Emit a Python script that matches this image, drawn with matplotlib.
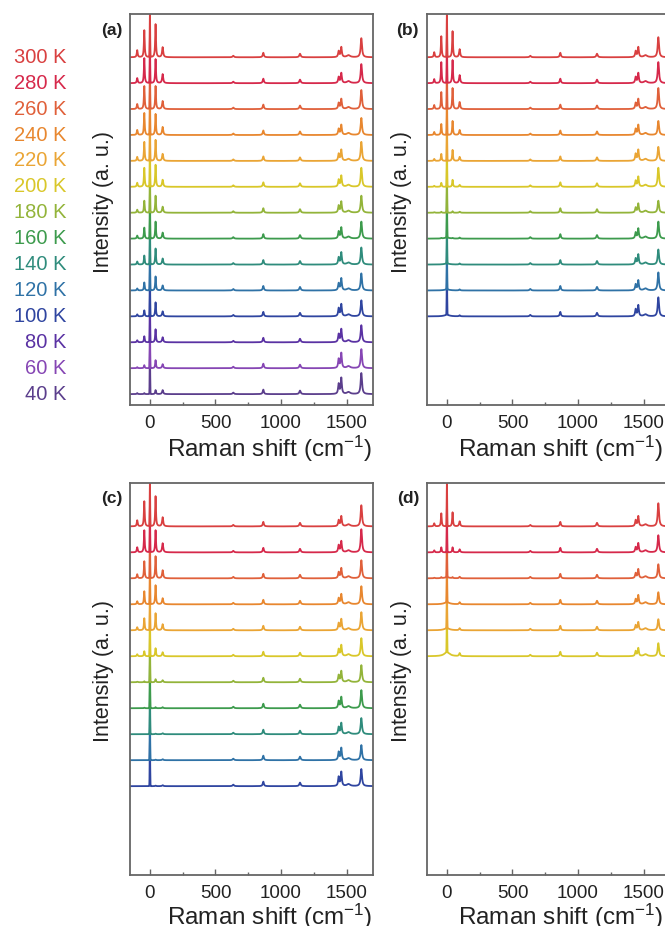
import numpy as np
import matplotlib
matplotlib.use("Agg")
import matplotlib.pyplot as plt
from matplotlib import transforms
from matplotlib.ticker import MultipleLocator

plt.rcParams['font.family'] = ['Liberation Sans', 'DejaVu Sans']
plt.rcParams['mathtext.fontset'] = 'custom'
plt.rcParams['mathtext.rm'] = 'Liberation Sans'
plt.rcParams['mathtext.it'] = 'Liberation Sans:italic'

# ---------------- data (peak heights, in pixels) -------------
temps = [300, 280, 260, 240, 220, 200, 180, 160, 140, 120, 100, 80, 60, 40]
colors = ['#d94040', '#d6294b', '#e0603a', '#e8872f', '#eaa535', '#d9c72a',
          '#93b43a', '#3d9b4d', '#2f8c7c', '#2f72a6', '#2f45a0', '#5a32a3',
          '#8646b4', '#5b3e8c']

# band positions (cm^-1)
pos_m97, pos_m43, pos_p43, pos_p97 = -97, -43, 43, 97
pos_636, pos_865, pos_1145 = 636, 865, 1145
pos_1440, pos_1460, pos_1515, pos_1613 = 1440, 1460, 1515, 1613

# panel (a): 300 K ... 40 K
a_m97 = [7, 5, 5, 5, 4, 4, 3, 3, 3, 2, 2, 2, 1, 1]
a_m43 = [27, 25, 23, 22, 19, 19, 12, 11, 9, 8, 6, 6, 3, 1]
a_p43 = [33, 24, 23, 21, 21, 22, 17, 17, 16, 14, 14, 13, 8, 4]
a_p97 = [10, 9, 8, 8, 7, 7, 6, 6, 6, 5, 5, 5, 4, 4]
a_1440 = [6, 6, 6, 6, 7, 7, 7, 7, 7, 7, 8, 8, 9, 10]
a_1460 = [10, 10, 10, 10, 11, 11, 11, 11, 12, 12, 12, 13, 15, 16]
a_1613 = [19, 19, 19, 17, 19, 19, 17, 17, 17, 17, 16, 17, 19, 21]
a_wing = [0, 0, 0, 0, 0, 0, 0, 0, 0, 0, 0, 0, 0, 0]

# panel (b): 300 K ... 100 K
b_m97 = [5, 4, 4, 3, 2, 1, 0.5, 0, 0, 0, 0]
b_m43 = [21, 21, 17, 11, 7, 4, 1, 0.5, 0, 0, 0]
b_p43 = [26, 23, 21, 14, 11, 7, 1.5, 0.5, 0, 0, 0]
b_p97 = [8, 8, 7, 5, 4, 2, 1, 1, 1, 1, 1]
b_1440 = [6, 6, 6, 6, 7, 6, 5, 6, 6, 6, 7]
b_1460 = [10, 10, 10, 10, 11, 10, 9, 10, 10, 10, 11]
b_1613 = [20, 21, 21, 14, 14, 19, 12, 17, 15, 18, 19]
b_wing = [0, 0, 0, 0, 0, 0, 0, 1, 1, 1, 1.5]

# panel (c): 300 K ... 100 K
c_m97 = [6, 5, 4, 3, 3, 2, 0.5, 0, 0, 0, 0]
c_m43 = [25, 22, 17, 13, 12, 5, 1, 0.5, 0, 0, 0]
c_p43 = [30, 22, 22, 19, 17, 8, 3, 1, 0.5, 0.5, 0.5]
c_p97 = [9, 9, 8, 6, 6, 4, 2, 1, 1, 1, 1]
c_1440 = [6, 7, 6, 6, 7, 7, 7, 7, 7, 8, 9]
c_1460 = [10, 11, 10, 10, 11, 11, 11, 11, 11, 12, 14]
c_1613 = [21, 23, 18, 18, 18, 18, 17, 18, 16, 15, 17]
c_wing = [0, 0, 0, 0, 0, 0, 0, 0, 0, 0, 0]

# panel (d): 300 K ... 200 K
d_m97 = [3, 2, 0.5, 0, 0, 0]
d_m43 = [13, 5, 1, 0, 0, 0]
d_p43 = [14, 5, 1, 0, 0, 0]
d_p97 = [5, 3, 1.5, 2, 2, 3]
d_1440 = [6, 5, 5, 5, 5, 5]
d_1460 = [10, 9, 9, 9, 8, 8]
d_1613 = [23, 17, 14, 12, 11, 13]
d_wing = [0, 0, 1, 2, 2, 4]

# weak bands with nearly constant height (pixels)
weak_636, weak_865, weak_1145, weak_1515 = 1.5, 4.5, 3.5, 2.0
laser_height = 1.8          # in units of the vertical offset between traces

panel_labels = ['(a)', '(b)', '(c)', '(d)']
xticks = [0, 500, 1000, 1500]
xlabel = r'Raman shift (cm$^{-1}$)'
ylabel = 'Intensity (a. u.)'

# ---------------- spectrum construction -----------------
PX = 25.9  # pixels per unit offset
x = np.arange(-160, 1710, 0.5)


def lor(x0, hw):
    return 1.0 / (1.0 + ((x - x0) / hw) ** 2)


def spectrum(i, m97, m43, p43, p97, b1440, b1460, b1613, wing):
    y = (m97[i] * lor(pos_m97, 4) + m43[i] * lor(pos_m43, 3.5) +
         p43[i] * lor(pos_p43, 3.5) + p97[i] * lor(pos_p97, 5) +
         weak_636 * lor(pos_636, 6) + weak_865 * lor(pos_865, 5) +
         weak_1145 * lor(pos_1145, 6) + b1440[i] * lor(pos_1440, 5) +
         b1460[i] * lor(pos_1460, 5) + weak_1515 * lor(pos_1515, 15) +
         b1613[i] * lor(pos_1613, 6) + wing[i] * lor(0, 25)) / PX
    y = y + laser_height * np.exp(-0.5 * (x / 1.8) ** 2)
    return y


panels = [
    (a_m97, a_m43, a_p43, a_p97, a_1440, a_1460, a_1613, a_wing),
    (b_m97, b_m43, b_p43, b_p97, b_1440, b_1460, b_1613, b_wing),
    (c_m97, c_m43, c_p43, c_p97, c_1440, c_1460, c_1613, c_wing),
    (d_m97, d_m43, d_p43, d_p97, d_1440, d_1460, d_1613, d_wing),
]

# ---------------- figure -----------------
W, H = 665, 926
fig = plt.figure(figsize=(W / 100, H / 100), dpi=100)
boxes = [(130, 14, 243, 391), (427, 14, 243, 391),
         (130, 483, 243, 392), (427, 483, 243, 392)]
label_base = [-52, -52, -50, -50]
label_left = [37, 31, 37, 31]

axes = []
for k, (l, t, w, h) in enumerate(boxes):
    ax = fig.add_axes([l / W, 1 - (t + h) / H, w / W, h / H])
    axes.append(ax)
    data = panels[k]
    n = len(data[0])
    for i in reversed(range(n)):
        off = (temps[i] - 40) / 20
        ax.plot(x, spectrum(i, *data) + off, color=colors[i], lw=1.3,
                solid_joinstyle='round')
    ax.set_xlim(-152, 1702)
    ax.set_ylim(-0.42, 14.67)
    ax.set_yticks([])
    ax.set_xticks(xticks)
    ax.xaxis.set_minor_locator(MultipleLocator(250))
    ax.tick_params(axis='x', which='major', direction='in', length=4,
                   width=1.0, color='#666666', labelsize=13.5, pad=7.5,
                   labelcolor='#222222')
    ax.tick_params(axis='x', which='minor', direction='in', length=2.5,
                   width=1.0, color='#666666')
    for s in ax.spines.values():
        s.set_color('#666666')
        s.set_linewidth(1.3)
    ax.set_xlabel(xlabel, fontsize=17.5, color='#222222', ha='left')
    ax.xaxis.set_label_coords(label_left[k] / w, label_base[k] / h)
    ax.xaxis.label.set_va('baseline')
    ax.set_ylabel(ylabel, fontsize=15.5, color='#222222')
    ax.yaxis.set_label_coords(-26 / w, 0.52)
    ax.yaxis.label.set_va('center')
    ax.text(-8 / w, 1 - 16 / h, panel_labels[k], transform=ax.transAxes,
            ha='right', va='center', fontsize=12.5, fontweight='bold',
            color='#222222')

# temperature legend next to panel (a)
axa = axes[0]
trans = transforms.blended_transform_factory(axa.transAxes, axa.transData)
for i, T in enumerate(temps):
    off = (T - 40) / 20
    axa.text(-63.5 / 243, off, f'{T} K', transform=trans, ha='right',
             va='center', fontsize=14.5, color=colors[i])

fig.savefig('out.png', dpi=100)
